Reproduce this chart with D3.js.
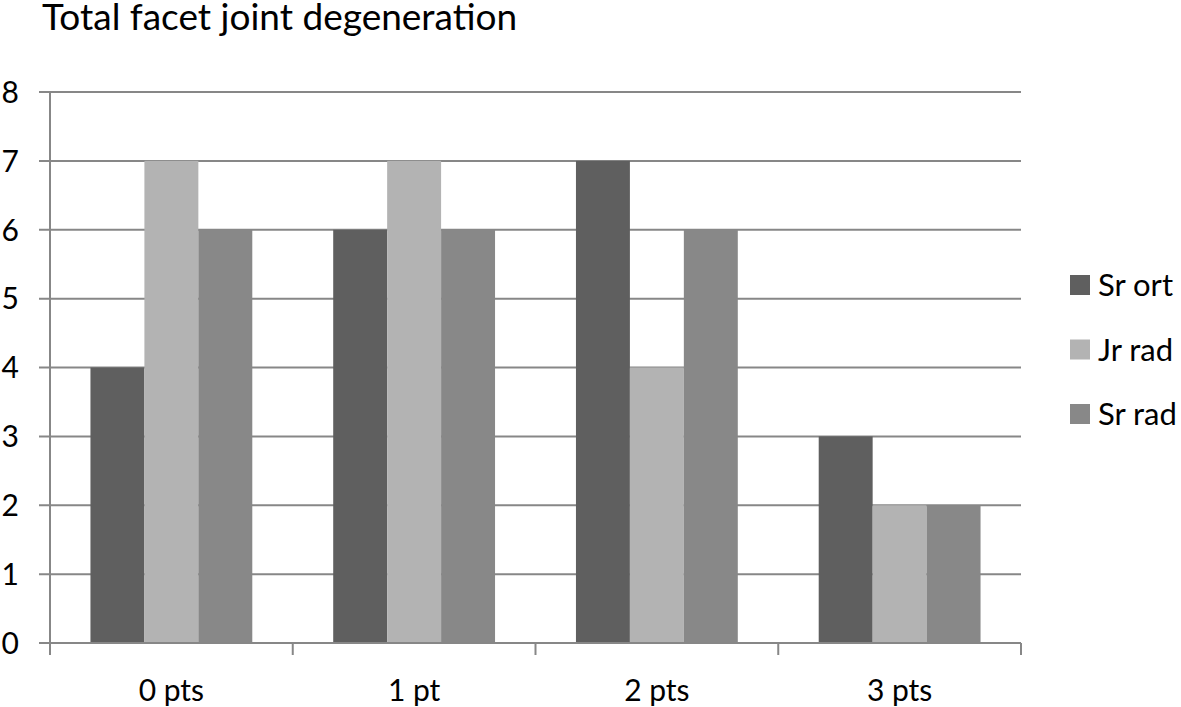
<!DOCTYPE html>
<html><head><meta charset="utf-8">
<script src="https://cdn.jsdelivr.net/npm/d3@7"></script>
<style>body{margin:0;background:#fff}svg{display:block}text{font-family:Lato,"Open Sans",sans-serif;fill:#000}</style>
</head><body>
<svg id="c" width="1181" height="707"></svg>
<script>
const title = "Total facet joint degeneration";
const categories = ["0 pts", "1 pt", "2 pts", "3 pts"];
const series = ["Sr ort", "Jr rad", "Sr rad"];
const srOrt = [4, 6, 7, 3];
const jrRad = [7, 7, 4, 2];
const srRad = [6, 6, 6, 2];
const yTicks = [0, 1, 2, 3, 4, 5, 6, 7, 8];
const colors = ["#5f5f5f", "#b3b3b3", "#888888"];
const values = [srOrt, jrRad, srRad];

const svg = d3.select("#c");
const L = 50, R = 1021, T = 92, B = 643;
const y = d3.scaleLinear().domain([0, 8]).range([B, T]);
const x0 = d3.scaleBand().domain(categories).range([L, R]).padding(0);
const x1 = d3.scaleBand().domain(series).range([0, x0.bandwidth()]).paddingInner(0).paddingOuter(0.75);
const grid = "#878787";

// gridlines + y ticks
svg.append("g").selectAll("line").data(yTicks).join("line")
  .attr("x1", 39).attr("x2", R).attr("y1", d => y(d)).attr("y2", d => y(d))
  .attr("stroke", grid).attr("stroke-width", 2);
svg.append("g").selectAll("text").data(yTicks).join("text")
  .attr("x", 19).attr("y", d => y(d)).attr("dy", "0.36em").attr("text-anchor", "end")
  .attr("font-size", 30).text(d => d);

// bars
const g = svg.append("g");
series.forEach((s, si) => {
  g.append("g").selectAll("rect").data(categories).join("rect")
    .attr("x", c => x0(c) + x1(s)).attr("width", x1.bandwidth())
    .attr("y", (c, i) => y(values[si][i])).attr("height", (c, i) => y(0) - y(values[si][i]))
    .attr("fill", colors[si]);
});

// axes lines
svg.append("line").attr("x1", L).attr("x2", L).attr("y1", T).attr("y2", 655).attr("stroke", grid).attr("stroke-width", 2);
svg.append("line").attr("x1", 39).attr("x2", R).attr("y1", B).attr("y2", B).attr("stroke", grid).attr("stroke-width", 2);
const bounds = categories.map(c => x0(c)).concat([R]);
svg.append("g").selectAll("line").data(bounds).join("line")
  .attr("x1", d => d).attr("x2", d => d).attr("y1", B).attr("y2", 655)
  .attr("stroke", grid).attr("stroke-width", 2);
svg.append("g").selectAll("text").data(categories).join("text")
  .attr("x", c => x0(c) + x0.bandwidth() / 2).attr("y", 701).attr("text-anchor", "middle")
  .attr("font-size", 30).text(c => c);

// title
svg.append("text").attr("x", 42).attr("y", 30).attr("font-size", 37).text(title);

// legend
const lg = svg.append("g").selectAll("g").data(series).join("g")
  .attr("transform", (d, i) => `translate(1070,${285 + i * 64.5})`);
lg.append("rect").attr("x", 0).attr("y", -10).attr("width", 20).attr("height", 20).attr("fill", (d, i) => colors[i]);
lg.append("text").attr("x", 28).attr("y", 0).attr("dy", "0.36em").attr("font-size", 31).text(d => d);
</script>
</body></html>
